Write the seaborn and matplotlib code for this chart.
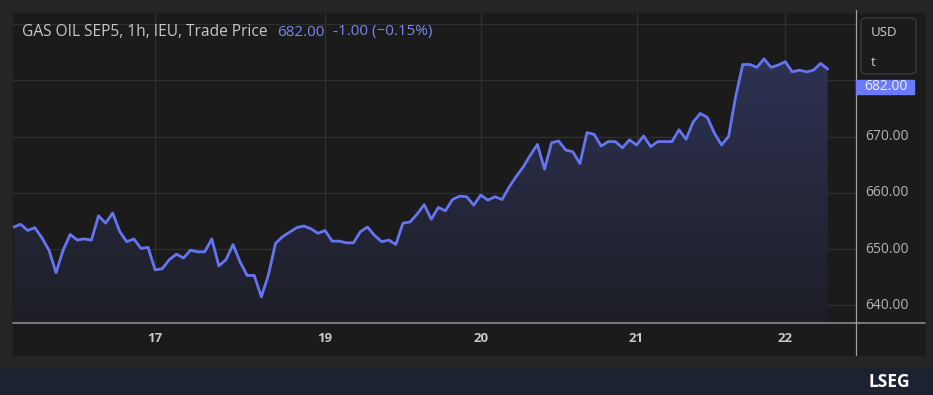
import matplotlib
matplotlib.use("Agg")
import matplotlib.pyplot as plt
from matplotlib.patches import Rectangle, FancyBboxPatch
import numpy as np
import pandas as pd
import seaborn as sns

# hourly trade prices, GAS OIL SEP5
prices = [653.9, 654.4, 653.3, 653.8, 652.0, 649.8, 645.8, 649.8, 652.6, 651.6,
          651.8, 651.6, 655.9, 654.6, 656.4, 653.1, 651.3, 651.8, 650.1, 650.3,
          646.3, 646.5, 648.1, 649.1, 648.4, 649.8, 649.5, 649.5, 651.8, 647.0,
          648.1, 650.8, 647.7, 645.3, 645.3, 641.5, 645.4, 651.0, 652.2, 653.0,
          653.8, 654.1, 653.6, 652.8, 653.3, 651.4, 651.4, 651.1, 651.1, 653.1,
          653.9, 652.4, 651.3, 651.6, 650.8, 654.6, 654.8, 656.2, 657.9, 655.3,
          657.4, 656.8, 658.8, 659.4, 659.3, 657.8, 659.6, 658.7, 659.3, 658.8,
          661.0, 662.9, 664.6, 666.7, 668.6, 664.2, 668.9, 669.2, 667.6, 667.3,
          665.2, 670.7, 670.4, 668.3, 669.1, 669.1, 668.0, 669.4, 668.5, 670.1,
          668.2, 669.1, 669.1, 669.1, 671.2, 669.5, 672.6, 674.1, 673.4, 670.6,
          668.5, 670.0, 677.1, 682.8, 682.8, 682.3, 683.8, 682.3, 682.7, 683.3,
          681.5, 681.8, 681.5, 681.8, 683.0, 682.0]
day_ticks = [20, 44, 66, 88, 109]
day_labels = ["17", "19", "20", "21", "22"]
price_ticks = [640, 650, 660, 670]
last_price = 682.00
change = -1.00
change_pct = -0.15

df = pd.DataFrame({"hour": range(len(prices)), "price": prices})

W, H = 933, 395
LINE = "#6474f2"


def fx(x):
    return x / W


def fy(y):
    return 1 - y / H


sns.set_style("dark")
plt.rcParams["font.family"] = ["Open Sans", "DejaVu Sans"]

fig = plt.figure(figsize=(W / 100, H / 100), dpi=100, facecolor="#252525")

# panel, logo band
fig.patches.append(Rectangle((fx(13), fy(355)), fx(925 - 13), (355 - 13) / H,
                             transform=fig.transFigure, color="#1b1b1b", zorder=-2))
fig.patches.append(Rectangle((0, 0), 1, (H - 368) / H, transform=fig.transFigure,
                             color="#1d2230", zorder=-2))

ax = fig.add_axes([fx(13), fy(323), fx(856 - 13), (323 - 13) / H])
ax.set_zorder(1)
ax.set_facecolor("#1b1b1b")

ymin, ymax = 636.85, 691.96
ax.set_xlim(-0.08, 119.0)
ax.set_ylim(ymin, ymax)

# gradient area under the line
poly = ax.fill_between(df["hour"], df["price"], ymin, color="none", lw=0)
grad = np.linspace(0, 1, 256).reshape(-1, 1)
cmap = matplotlib.colors.LinearSegmentedColormap.from_list(
    "area", ["#1d1e25", "#2e3254"])
img = ax.imshow(grad, cmap=cmap, aspect="auto", origin="lower",
                extent=[0, len(prices) - 1, ymin, max(prices)], zorder=1)
img.set_clip_path(poly.get_paths()[0], transform=ax.transData)

sns.lineplot(data=df, x="hour", y="price", ax=ax, color=LINE, lw=2, zorder=3)

for v in range(640, 700, 10):
    ax.axhline(v, color="#2f2f2f", lw=0.9, zorder=0.5)
for t in day_ticks:
    ax.axvline(t, color="#2f2f2f", lw=0.9, zorder=0.5)

ax.grid(False)
ax.set_xticks([])
ax.set_yticks([])
ax.set_xlabel("")
ax.set_ylabel("")
for s in ax.spines.values():
    s.set_visible(False)

# axis separators
fig.add_artist(plt.Line2D([fx(13), fx(925)], [fy(323), fy(323)], color="#8a8a8a",
                          lw=1.2, zorder=2))
fig.add_artist(plt.Line2D([fx(856), fx(856)], [fy(10), fy(355)], color="#a0a0a0",
                          lw=0.9, zorder=2))

# x tick labels (day of month)
for t, lab in zip(day_ticks, day_labels):
    xp = fx(13) + (t + 0.08) / 119.08 * fx(856 - 13)
    fig.text(xp, fy(339), lab, color="#c8c8c8", fontsize=9.5, fontweight="bold",
             ha="center", va="center")

# y tick labels on the right
for v in price_ticks:
    ax.text(1.0 + 31 / (856 - 13), v, f"{v:.2f}",
            transform=ax.get_yaxis_transform(), color="#b4b4b4", fontsize=10,
            ha="center", va="center", clip_on=False)

# current price marker
fig.patches.append(Rectangle((fx(856), fy(94)), fx(58), 14 / H, transform=fig.transFigure,
                             color="#6b7bff", zorder=5))
fig.text(fx(886), fy(87), f"{last_price:.2f}", color="#eef0ff", fontsize=10,
         ha="center", va="center", zorder=6)

# currency box
fig.patches.append(FancyBboxPatch((fx(861), fy(74)), fx(55), 56 / H,
                                  boxstyle="round,pad=0,rounding_size=0.008",
                                  transform=fig.transFigure, facecolor="#1b1b1b",
                                  edgecolor="#3a3a3a", lw=1, zorder=5))
fig.text(fx(871), fy(33), "USD", color="#d0d0d0", fontsize=9.5, va="center", zorder=6)
fig.text(fx(871), fy(63), "t", color="#d0d0d0", fontsize=9.5, va="center", zorder=6)

# title
fig.text(fx(22), fy(32), "GAS OIL SEP5, 1h, IEU, Trade Price", color="#c8c8c8",
         fontsize=11.2, va="center")
fig.text(fx(277), fy(32), f"{last_price:.2f}", color="#7a86ec", fontsize=11, va="center")
fig.text(fx(333), fy(32), f"{change:.2f} (\u2212{abs(change_pct):.2f}%)", color="#7a86ec",
         fontsize=11, va="center")

# brand
fig.text(fx(868), fy(382), "LSEG", color="white", fontsize=12.5, fontweight="bold",
         va="center", ha="left")

fig.savefig("out.png", dpi=100, facecolor=fig.get_facecolor())
